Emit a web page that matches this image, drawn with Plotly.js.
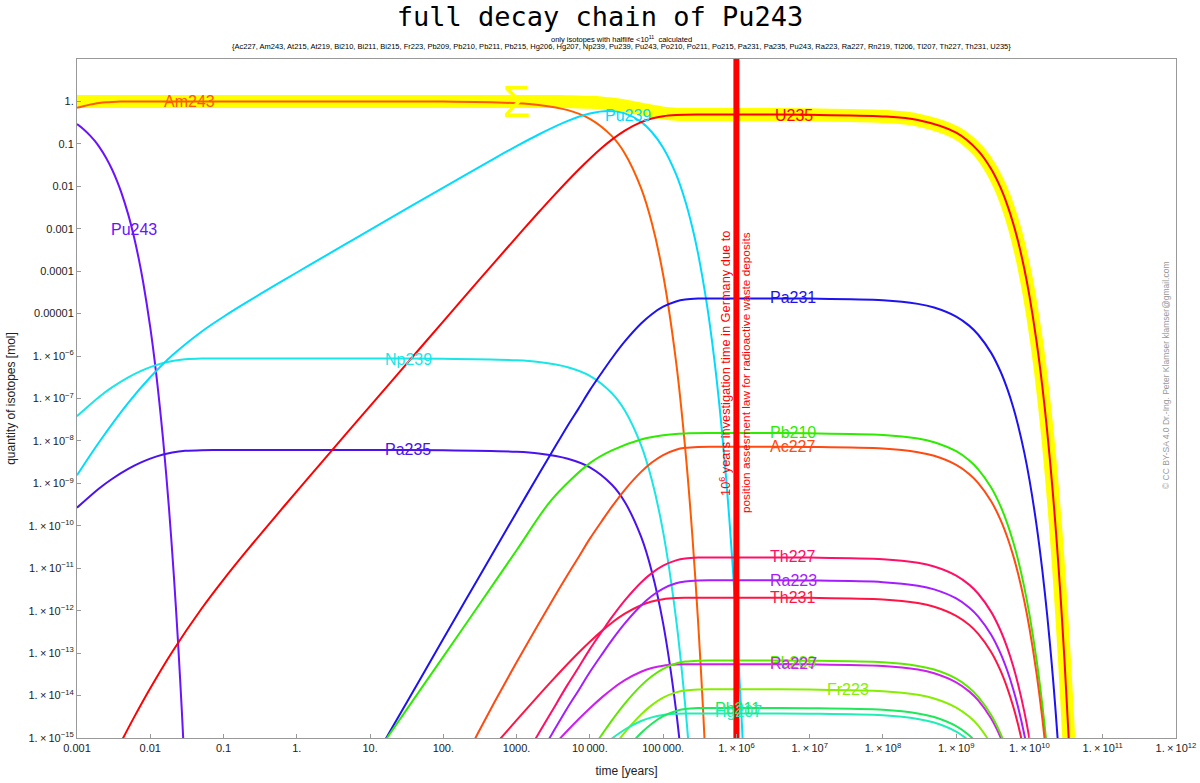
<!DOCTYPE html>
<html><head><meta charset="utf-8">
<script src="https://cdn.plot.ly/plotly-3.0.1.min.js"></script>
<style>html,body{margin:0;padding:0;background:#fff}#chart{width:1200px;height:783px}</style>
</head><body><div id="chart"></div>
<script>
// ---------------- data (years, mol) ----------------
const sumYears = [0.001,1,1000,2000,3000,5000,7000,1e4,1.5e4,2e4,3e4,5e4,7e4,1e5,1.5e5,2e5,3e5,5e5,1e6,1e7,1e8,3e8,1e9,2e9,3e9,4e9,5e9,6e9,7e9,8.5e9,1e10,1.25e10,1.5e10,1.75e10,2e10,2.25e10,2.5e10,2.75e10,3e10,3.5e10,4e10];
const sumMol = [1,1,0.9994,0.9977,0.9945,0.9859,0.9744,0.9533,0.9125,0.8691,0.7867,0.6625,0.5879,0.5314,0.4998,0.4923,0.4901,0.49,0.4895,0.4852,0.4440,0.3647,0.1831,0.0684,0.02554,9.55e-3,3.57e-3,1.333e-3,4.98e-4,1.137e-4,2.59e-5,2.2e-6,1.89e-7,1.61e-8,1.37e-9,1.18e-10,1.0e-11,8.5e-13,7.3e-14,5.3e-16,3.9e-18];

const pu243Years = [0.001,0.00125,0.0015,0.00175,0.002,0.0025,0.003,0.0035,0.004,0.005,0.006,0.007,0.008,0.01,0.012,0.015,0.018,0.021,0.024,0.027,0.03];
const pu243Mol = [0.293,0.216,0.159,0.117,0.0861,0.0467,0.0253,0.0137,0.00741,0.00218,0.000638,0.000187,0.000055,4.73e-6,4.07e-7,1.03e-8,2.6e-10,6.6e-12,1.66e-13,4.2e-15,1.07e-16];

const am243Years = [0.001,0.00125,0.0015,0.00175,0.002,0.0025,0.003,0.0035,0.004,0.005,0.007,0.01,0.1,1,10,100,1000,2000,5000,1e4,2e4,3e4,5e4,7e4,1e5,1.5e5,2e5,2.5e5,3e5,3.5e5,4e5];
const am243Mol = [0.707,0.784,0.841,0.883,0.914,0.953,0.975,0.9863,0.9926,0.9978,0.9998,1,1,1,0.9991,0.9906,0.910,0.829,0.625,0.390,0.152,0.0595,9.07e-3,1.38e-3,8.22e-5,7.45e-7,6.77e-9,6.16e-11,5.57e-13,5.06e-15,4.6e-17];

const np239Years = [0.001,0.002,0.003,0.005,0.0075,0.01,0.015,0.02,0.03,0.05,0.1,1,10,100,1000,2000,5000,1e4,2e4,3e4,5e4,7e4,1e5,1.5e5,2e5,2.5e5];
const np239Mol = [3.83e-8,1.087e-7,1.824e-7,3.149e-7,4.468e-7,5.478e-7,6.841e-7,7.637e-7,8.373e-7,8.713e-7,8.757e-7,8.757e-7,8.749e-7,8.675e-7,7.97e-7,7.26e-7,5.47e-7,3.42e-7,1.33e-7,5.21e-8,7.94e-9,1.21e-9,7.20e-11,6.52e-13,5.93e-15,5.4e-17];

const pa235Years = [0.001,0.002,0.003,0.005,0.0075,0.01,0.015,0.02,0.03,0.05,0.1,1,10,100,1000,2000,5000,1e4,2e4,3e4,5e4,7e4,1e5,1.5e5,2e5];
const pa235Mol = [2.67e-10,7.58e-10,1.271e-9,2.195e-9,3.114e-9,3.818e-9,4.768e-9,5.323e-9,5.836e-9,6.073e-9,6.104e-9,6.104e-9,6.098e-9,6.046e-9,5.555e-9,5.06e-9,3.81e-9,2.384e-9,9.27e-10,3.63e-10,5.53e-11,8.43e-12,5.02e-13,4.54e-15,4.13e-17];

const pu239Years = [0.001,0.002,0.005,0.01,0.02,0.05,0.1,0.2,0.5,1,2,5,10,100,500,1000,2000,5000,1e4,1.8e4,3e4,5e4,7e4,1e5,1.5e5,2e5,2.5e5,3e5,4e5,5e5,6e5,7e5,8e5,9e5,1e6,1.1e6,1.2e6,1.3e6];
const pu239Mol = [1.55e-9,9.3e-9,7.88e-8,3.16e-7,1.041e-6,3.755e-6,8.453e-6,1.786e-5,4.607e-5,9.31e-5,1.871e-4,4.69e-4,9.40e-4,9.347e-3,0.04561,0.08846,0.1665,0.3475,0.5181,0.5935,0.5223,0.3291,0.1905,0.08114,0.0193,4.584e-3,1.089e-3,2.587e-4,1.459e-5,8.24e-7,4.64e-8,2.62e-9,1.478e-10,8.35e-12,4.71e-13,2.66e-14,1.50e-15,8.5e-17];

const u235Years = [0.004,0.006,0.01,0.02,0.05,0.1,0.2,0.5,1,2,5,10,30,100,300,1000,2000,3000,5000,7000,1e4,1.5e4,2e4,3e4,5e4,7e4,1e5,1.5e5,2e5,3e5,5e5,1e6,1e7,1e8,3e8,1e9,2e9,3e9,4e9,5e9,6e9,7e9,8.5e9,1e10,1.25e10,1.5e10,1.75e10,2e10,2.25e10,2.5e10,2.75e10,3e10,3.5e10];
const u235Mol = [8.1e-16,3.06e-15,1.488e-14,1.078e-13,1.111e-12,5.41e-12,2.394e-11,1.590e-10,6.492e-10,2.623e-9,1.650e-8,6.611e-8,5.95e-7,6.598e-6,5.89e-5,6.36e-4,2.443e-3,5.285e-3,0.01356,0.02461,0.04481,0.08411,0.1258,0.2049,0.3243,0.3960,0.4502,0.4805,0.4878,0.4899,0.4900,0.4895,0.4852,0.4440,0.3647,0.1831,0.0684,0.02554,9.55e-3,3.57e-3,1.333e-3,4.98e-4,1.137e-4,2.59e-5,2.2e-6,1.89e-7,1.61e-8,1.37e-9,1.18e-10,1.0e-11,8.5e-13,7.3e-14,5.3e-16];

const pa231Years = [10,20,50,100,200,500,1e3,2e3,3e3,5e3,7e3,1e4,1.5e4,2e4,3e4,5e4,7e4,1e5,1.5e5,2e5,3e5,5e5,1e6,1e7,1e8,3e8,5e8,1e9,1.5e9,2e9,3e9,4e9,5e9,6e9,7e9,8.5e9,1e10,1.25e10,1.5e10,1.75e10,2e10,2.25e10,2.5e10];
const pa231Mol = [2.173e-16,1.738e-15,2.716e-14,2.172e-13,1.728e-12,2.668e-11,2.095e-10,1.618e-9,5.26e-9,2.32e-8,5.78e-8,1.573e-7,4.385e-7,8.892e-7,2.2085e-6,5.836e-6,9.694e-6,1.4534e-5,1.9365e-5,2.1473e-5,2.2621e-5,2.2797e-5,2.2797e-5,2.258e-5,2.066e-5,1.697e-5,1.394e-5,8.52e-6,5.21e-6,3.18e-6,1.188e-6,4.44e-7,1.66e-7,6.20e-8,2.32e-8,5.29e-9,1.206e-9,1.03e-10,8.8e-12,7.5e-13,6.4e-14,5.5e-15,4.7e-16];

const pb210Years = [10,17,30,100,300,1e3,3e3,1e4,2e4,5e4,1e5,2e5,5e5,1e6,1e7,1e8,3e8,5e8,1e9,1.5e9,2e9,3e9,4e9,5e9,6e9,7e9,8.5e9,1e10,1.25e10,1.5e10,1.75e10];
const pb210Mol = [2.65e-16,1e-15,4.14e-15,8.3e-14,1.29e-12,2.65e-11,4.1e-10,3.0e-9,6.0e-9,1.08e-8,1.36e-8,1.5e-8,1.53e-8,1.53e-8,1.515e-8,1.386e-8,1.139e-8,9.35e-9,5.72e-9,3.49e-9,2.14e-9,7.97e-10,2.98e-10,1.114e-10,4.16e-11,1.555e-11,3.55e-12,8.09e-13,6.9e-14,5.9e-15,5.0e-16];

const ac227Years = [200,250,300,500,1e3,2e3,3e3,5e3,7e3,1e4,1.5e4,2e4,3e4,5e4,7e4,1e5,1.5e5,2e5,3e5,5e5,1e6,1e7,1e8,3e8,5e8,1e9,1.5e9,2e9,3e9,4e9,5e9,6e9,7e9,8.5e9,1e10,1.25e10,1.5e10,1.75e10];
const ac227Mol = [3.31e-16,7.26e-16,1.347e-15,7.03e-15,6.09e-14,4.93e-13,1.631e-12,7.13e-12,1.825e-11,4.986e-11,1.395e-10,2.83e-10,7.067e-10,1.8675e-9,3.102e-9,4.651e-9,6.197e-9,6.871e-9,7.239e-9,7.295e-9,7.296e-9,7.23e-9,6.62e-9,5.43e-9,4.46e-9,2.73e-9,1.667e-9,1.019e-9,3.80e-10,1.423e-10,5.31e-11,1.986e-11,7.42e-12,1.694e-12,3.86e-13,3.29e-14,2.81e-15,2.4e-16];

const th227Years = [1e3,2e3,3e3,5e3,7e3,1e4,1.5e4,2e4,3e4,5e4,7e4,1e5,1.5e5,2e5,3e5,5e5,1e6,1e7,1e8,3e8,5e8,1e9,1.5e9,2e9,3e9,4e9,5e9,6e9,7e9,8.5e9,1e10,1.25e10];
const th227Mol = [1.655e-16,1.278e-15,4.155e-15,1.833e-14,4.566e-14,1.243e-13,3.464e-13,7.025e-13,1.745e-12,4.610e-12,7.658e-12,1.148e-11,1.530e-11,1.696e-11,1.787e-11,1.801e-11,1.80e-11,1.782e-11,1.631e-11,1.340e-11,1.100e-11,6.72e-12,4.11e-12,2.51e-12,9.38e-13,3.51e-13,1.310e-13,4.90e-14,1.829e-14,4.18e-15,9.52e-16,8.1e-17];

const ra223Years = [1e3,2e3,3e3,5e3,7e3,1e4,1.5e4,2e4,3e4,5e4,7e4,1e5,1.5e5,2e5,3e5,5e5,1e6,1e7,1e8,3e8,5e8,1e9,1.5e9,2e9,3e9,4e9,5e9,6e9,7e9,8.5e9,1e10];
const ra223Mol = [4.78e-17,3.689e-16,1.199e-15,5.29e-15,1.318e-14,3.586e-14,9.998e-14,2.027e-13,5.035e-13,1.331e-12,2.210e-12,3.314e-12,4.415e-12,4.896e-12,5.158e-12,5.198e-12,5.2e-12,5.15e-12,4.71e-12,3.87e-12,3.18e-12,1.943e-12,1.188e-12,7.26e-13,2.71e-13,1.013e-13,3.79e-14,1.414e-14,5.28e-15,1.206e-15,2.75e-16];

const th231Years = [300,500,1e3,2e3,3e3,5e3,7e3,1e4,1.5e4,2e4,3e4,5e4,7e4,1e5,1.5e5,2e5,3e5,5e5,1e6,1e7,1e8,3e8,5e8,1e9,1.5e9,2e9,3e9,4e9,5e9,6e9,7e9,8.5e9];
const th231Mol = [2.44e-16,6.72e-16,2.63e-15,1.011e-14,2.188e-14,5.61e-14,1.0188e-13,1.855e-13,3.482e-13,5.21e-13,8.484e-13,1.342e-12,1.6394e-12,1.864e-12,1.9894e-12,2.0195e-12,2.0281e-12,2.0286e-12,2.0266e-12,2.010e-12,1.840e-12,1.511e-12,1.241e-12,7.58e-13,4.64e-13,2.83e-13,1.058e-13,3.96e-14,1.478e-14,5.52e-15,2.06e-15,4.71e-16];

const pb209Years = [5e3,7e3,1e4,1.5e4,2e4,3e4,5e4,7e4,1e5,1.5e5,2e5,3e5,5e5,1e6,1e7,1e8,3e8,5e8,1e9,1.5e9,2e9,3e9,4e9,5e9];
const pb209Mol = [6.82e-17,1.70e-16,4.62e-16,1.289e-15,2.614e-15,6.493e-15,1.716e-14,2.850e-14,4.273e-14,5.693e-14,6.313e-14,6.651e-14,6.702e-14,6.70e-14,6.63e-14,6.07e-14,4.99e-14,4.10e-14,2.50e-14,1.530e-14,9.35e-15,3.49e-15,1.306e-15,4.88e-16];

const ra227Years = [2e3,3e3,5e3,7e3,1e4,1.5e4,2e4,3e4,5e4,7e4,1e5,1.5e5,2e5,3e5,5e5,1e6,1e7,1e8,3e8,5e8,1e9,1.5e9,2e9,3e9,4e9,5e9];
const ra227Mol = [2.74e-16,5.93e-16,1.520e-15,2.761e-15,5.027e-15,9.436e-15,1.412e-14,2.299e-14,3.637e-14,4.443e-14,5.051e-14,5.391e-14,5.473e-14,5.496e-14,5.498e-14,5.49e-14,5.45e-14,4.98e-14,4.09e-14,3.36e-14,2.05e-14,1.256e-14,7.68e-15,2.87e-15,1.072e-15,4.0e-16];

const fr223Years = [1e4,1.5e4,2e4,3e4,5e4,7e4,1e5,1.5e5,2e5,3e5,5e5,1e6,1e7,1e8,3e8,5e8,1e9,1.5e9,2e9,3e9];
const fr223Mol = [9.66e-17,2.69e-16,5.46e-16,1.356e-15,3.583e-15,5.952e-15,8.924e-15,1.189e-14,1.318e-14,1.389e-14,1.400e-14,1.40e-14,1.386e-14,1.269e-14,1.042e-14,8.56e-15,5.23e-15,3.20e-15,1.954e-15,7.29e-16];

const pb211Years = [1.5e4,2e4,3e4,5e4,7e4,1e5,1.5e5,2e5,3e5,5e5,1e6,1e7,1e8,3e8,5e8,1e9,1.5e9,2e9];
const pb211Mol = [9.8e-17,1.99e-16,4.947e-16,1.307e-15,2.171e-15,3.256e-15,4.338e-15,4.810e-15,5.067e-15,5.107e-15,5.10e-15,5.05e-15,4.62e-15,3.80e-15,3.12e-15,1.905e-15,1.165e-15,7.12e-16];

const hg207Years = [7e3,1e4,1.5e4,2e4,3e4,5e4,7e4,1e5,1.5e5,2e5,3e5,5e5,1e6,1e7,1e8,3e8,5e8,1e9,1.5e9];
const hg207Mol = [1.905e-16,3.47e-16,6.51e-16,9.74e-16,1.587e-15,2.510e-15,3.066e-15,3.486e-15,3.720e-15,3.776e-15,3.793e-15,3.793e-15,3.79e-15,3.75e-15,3.43e-15,2.82e-15,2.32e-15,1.416e-15,8.66e-16];

const limitYears = [1e6, 1e6];
const limitMol = [1e-17, 1e3];

const xTickVals = [1e-3,1e-2,1e-1,1,10,100,1e3,1e4,1e5,1e6,1e7,1e8,1e9,1e10,1e11,1e12];
const xTickText = ['0.001','0.01','0.1','1.','10.','100.','1000.','10\u2009000.','100\u2009000.',
  '1.\u2009×\u200910<sup>6</sup>','1.\u2009×\u200910<sup>7</sup>','1.\u2009×\u200910<sup>8</sup>','1.\u2009×\u200910<sup>9</sup>',
  '1.\u2009×\u200910<sup>10</sup>','1.\u2009×\u200910<sup>11</sup>','1.\u2009×\u200910<sup>12</sup>'];
const yTickVals = [1,0.1,0.01,0.001,1e-4,1e-5,1e-6,1e-7,1e-8,1e-9,1e-10,1e-11,1e-12,1e-13,1e-14,1e-15];
const yTickText = ['1.','0.1','0.01','0.001','0.0001','0.00001',
  '1.\u2009×\u200910<sup>−6</sup>','1.\u2009×\u200910<sup>−7</sup>','1.\u2009×\u200910<sup>−8</sup>','1.\u2009×\u200910<sup>−9</sup>',
  '1.\u2009×\u200910<sup>−10</sup>','1.\u2009×\u200910<sup>−11</sup>','1.\u2009×\u200910<sup>−12</sup>','1.\u2009×\u200910<sup>−13</sup>',
  '1.\u2009×\u200910<sup>−14</sup>','1.\u2009×\u200910<sup>−15</sup>'];

// ---------------- styling ----------------
const FONT = 'Liberation Sans, Arial, sans-serif';
const C = {
  sum:'#FFFF00', am243:'#FF5A00', pu243:'#6B12FF', np239:'#19E6E6', pa235:'#4A12EE', pu239:'#00DCFF',
  u235:'#FF0000', pa231:'#1E12F0', pb210:'#2EEB00', ac227:'#FF4A12', th227:'#FF0F66', ra223:'#A51DFF',
  th231:'#FF1445', pb209:'#5EE800', ra227:'#CC1FEE', fr223:'#86EE00', pb211:'#20E85A', hg207:'#20EEB4'
};
function line(x, y, color, width) {
  return {type:'scatter', mode:'lines', x:x, y:y, hoverinfo:'skip', showlegend:false,
          line:{color:color, width:width||2, shape:'spline', smoothing:0.9}};
}
const traces = [
  line(sumYears, sumMol, C.sum, 13),
  line(pu243Years, pu243Mol, C.pu243, 2),
  line(am243Years, am243Mol, C.am243, 2),
  line(np239Years, np239Mol, C.np239, 2),
  line(pa235Years, pa235Mol, C.pa235, 2),
  line(pu239Years, pu239Mol, C.pu239, 2),
  line(pa231Years, pa231Mol, C.pa231, 2),
  line(pb210Years, pb210Mol, C.pb210, 2),
  line(ac227Years, ac227Mol, C.ac227, 2),
  line(th231Years, th231Mol, C.th231, 2),
  line(th227Years, th227Mol, C.th227, 2),
  line(ra223Years, ra223Mol, C.ra223, 2),
  line(ra227Years, ra227Mol, C.ra227, 2),
  line(pb209Years, pb209Mol, C.pb209, 2),
  line(fr223Years, fr223Mol, C.fr223, 2),
  line(hg207Years, hg207Mol, C.hg207, 2),
  line(pb211Years, pb211Mol, C.pb211, 2),
  line(u235Years, u235Mol, C.u235, 2),
  {type:'scatter', mode:'lines', x:limitYears, y:limitMol, hoverinfo:'skip', showlegend:false,
   line:{color:'#FF0000', width:6}}
];

function lab(text, lx, ly, color, anchor) {
  return {text:text, x:lx, y:ly, xref:'x', yref:'y', showarrow:false, xanchor:anchor||'left', yanchor:'middle',
          font:{family:FONT, size:16, color:color}};
}
const annotations = [
  lab('Am243', -1.84, -0.013, C.am243),
  lab('Pu243', -2.563, -3.006, C.pu243),
  lab('Np239', 1.176, -6.07, C.np239),
  lab('Pa235', 1.176, -8.21, C.pa235),
  lab('Pu239', 4.179, -0.32, C.pu239),
  lab('U235', 6.499, -0.343, C.u235),
  lab('Pa231', 6.431, -4.63, C.pa231),
  lab('Pb210', 6.431, -7.81, C.pb210),
  lab('Ac227', 6.431, -8.14, C.ac227),
  lab('Th227', 6.431, -10.73, C.th227),
  lab('Ra223', 6.431, -11.28, C.ra223),
  lab('Th231', 6.431, -11.70, C.th231),
  lab('Pb209', 6.431, -13.22, C.pb209),
  lab('Ra227', 6.431, -13.25, C.ra227),
  lab('Fr223', 7.209, -13.86, C.fr223),
  lab('Pb211', 5.68, -14.30, C.pb211),
  lab('Hg207', 5.68, -14.38, C.hg207),
  {text:'Σ', x:3.012, y:0.0, xref:'x', yref:'y', showarrow:false, xanchor:'center', yanchor:'middle',
   font:{family:FONT, size:45, color:'#FFFF00'}},
  {text:'10<sup>6</sup> years investigation time in Germany due to', x:5.844, y:-6.163, xref:'x', yref:'y',
   showarrow:false, textangle:-90, xanchor:'center', yanchor:'middle', font:{family:FONT, size:12.8, color:'#FF0000'}},
  {text:'position assesment law for radioactive waste deposits', x:6.131, y:-6.40, xref:'x', yref:'y',
   showarrow:false, textangle:-90, xanchor:'center', yanchor:'middle', font:{family:FONT, size:11.8, color:'#FF0000'}},
  {text:'only isotopes with halflife &lt;10<sup>11</sup>  calculated', x:0.4959, y:1.0295, xref:'paper', yref:'paper',
   showarrow:false, xanchor:'center', yanchor:'middle', font:{family:FONT, size:7.5, color:'#000'}},
  {text:'{Ac227, Am243, At215, At219, Bi210, Bi211, Bi215, Fr223, Pb209, Pb210, Pb211, Pb215, Hg206, Hg207, Np239, Pu239, Pu243, Po210, Po211, Po215, Pa231, Pa235, Pu243, Ra223, Ra227, Rn219, Tl206, Tl207, Th227, Th231, U235}',
   x:0.4959, y:1.0177, xref:'paper', yref:'paper', showarrow:false, xanchor:'center', yanchor:'middle',
   font:{family:FONT, size:7.5, color:'#000'}},
  {text:'© CC BY-SA 4.0 Dr.-Ing. Peter Klamser klamser@gmail.com', x:0.991, y:0.5346, xref:'paper', yref:'paper',
   showarrow:false, textangle:-90, xanchor:'center', yanchor:'middle', font:{family:FONT, size:8.5, color:'#999'}}
];

const axisCommon = {
  type:'log', showgrid:false, zeroline:false, ticks:'inside', ticklen:4, tickcolor:'#999', tickwidth:1,
  linecolor:'#999', linewidth:1, mirror:true, showline:true,
  tickfont:{family:FONT, size:11, color:'#222'}
};
const layout = {
  width:1200, height:783, paper_bgcolor:'#fff', plot_bgcolor:'#fff',
  margin:{l:77, r:24, t:59, b:45, pad:0},
  title:{text:'full decay chain of Pu243', font:{family:'DejaVu Sans Mono', size:27, color:'#000'},
         x:0.5, xref:'container', y:0.991, yref:'container', yanchor:'top'},
  xaxis:Object.assign({}, axisCommon, {range:[-3,12], tickvals:xTickVals, ticktext:xTickText,
         title:{text:'time [years]', font:{family:FONT, size:12, color:'#222'}, standoff:13}}),
  yaxis:Object.assign({}, axisCommon, {range:[-15,1], tickvals:yTickVals, ticktext:yTickText,
         title:{text:'quantity of isotopes [mol]', font:{family:FONT, size:12, color:'#222'}, standoff:10}}),
  annotations:annotations
};
Plotly.newPlot('chart', traces, layout, {staticPlot:true, displayModeBar:false});
</script></body></html>
